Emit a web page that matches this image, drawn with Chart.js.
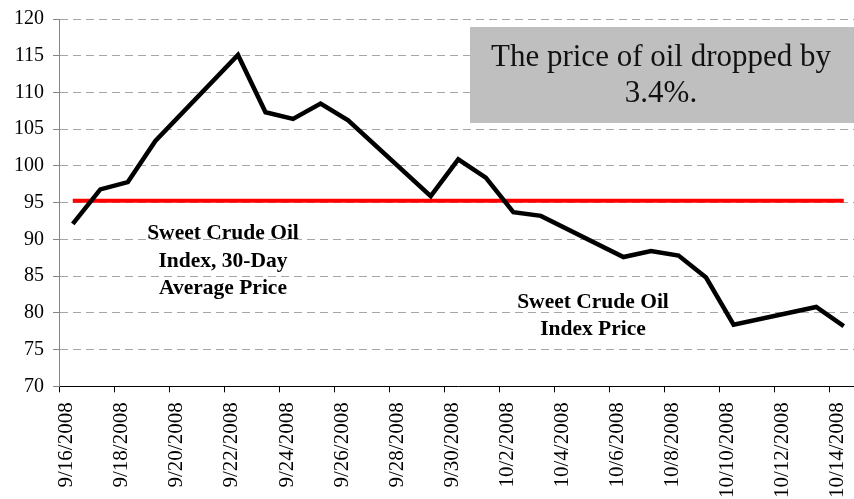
<!DOCTYPE html>
<html>
<head>
<meta charset="utf-8">
<script src="https://cdn.jsdelivr.net/npm/chart.js@4"></script>
<style>
  html, body { margin: 0; padding: 0; overflow: hidden; background: #fff; }
  .box { width: 879px; height: 510px; margin-top: -2px; }
</style>
</head>
<body>
<div class="box"><canvas id="oilChart"></canvas></div>
<script>
const dates = ['9/16/2008','9/17/2008','9/18/2008','9/19/2008','9/20/2008','9/21/2008','9/22/2008',
  '9/23/2008','9/24/2008','9/25/2008','9/26/2008','9/27/2008','9/28/2008','9/29/2008',
  '9/30/2008','10/1/2008','10/2/2008','10/3/2008','10/4/2008','10/5/2008','10/6/2008',
  '10/7/2008','10/8/2008','10/9/2008','10/10/2008','10/11/2008','10/12/2008','10/13/2008','10/14/2008'];
// weekends have no quote
const indexPrice = [92.1, 96.8, 97.8, 103.4, null, null, 115.1,
  107.3, 106.4, 108.5, 106.2, null, null, 95.9,
  100.9, 98.4, 93.7, 93.2, null, null, 87.6,
  88.4, 87.8, 84.8, 78.4, null, null, 80.8, 78.2];
const avgPrice = [95.25, 95.25, 95.25, 95.25, null, null, 95.25,
  95.25, 95.25, 95.25, 95.25, null, null, 95.25,
  95.25, 95.25, 95.25, 95.25, null, null, 95.25,
  95.25, 95.25, 95.25, 95.25, null, null, 95.25, 95.25];
const yTicks = [70, 75, 80, 85, 90, 95, 100, 105, 110, 115, 120];

const serif = 'Liberation Serif, Times New Roman, serif';

// text labels and the grey note box (canvas is shifted up 2px)
const notes = {
  id: 'notes',
  afterDraw(chart) {
    const ctx = chart.ctx;
    ctx.save();
    ctx.translate(0, 2);
    ctx.fillStyle = '#bfbfbf';
    ctx.fillRect(470, 27, 409, 96);
    ctx.fillStyle = '#111';
    ctx.textAlign = 'center';
    ctx.textBaseline = 'middle';
    ctx.font = '31px ' + serif;
    ctx.fillText('The price of oil dropped by', 661, 58);
    ctx.fillText('3.4%.', 661, 94);

    ctx.fillStyle = '#000';
    ctx.font = 'bold 21.5px ' + serif;
    ctx.fillText('Sweet Crude Oil', 223, 233);
    ctx.fillText('Index, 30-Day', 223, 261);
    ctx.fillText('Average Price', 223, 288);
    ctx.fillText('Sweet Crude Oil', 593, 302);
    ctx.fillText('Index Price', 593, 329);
    ctx.restore();
  }
};

const oilChart = new Chart(document.getElementById('oilChart'), {
  type: 'line',
  data: {
    labels: dates,
    datasets: [{
      label: 'Sweet Crude Oil Index Price',
      data: indexPrice,
      borderColor: '#000',
      borderWidth: 4.5,
      pointRadius: 0,
      tension: 0,
      spanGaps: true
    }, {
      label: 'Sweet Crude Oil Index, 30-Day Average Price',
      data: avgPrice,
      borderColor: '#ff0000',
      borderWidth: 4,
      pointRadius: 0,
      tension: 0,
      spanGaps: true
    }]
  },
  options: {
    responsive: true,
    maintainAspectRatio: false,
    animation: false,
    layout: { padding: { top: 4, left: 5, right: 3, bottom: 0 } },
    plugins: {
      legend: { display: false },
      tooltip: { enabled: false }
    },
    scales: {
      x: {
        type: 'category',
        offset: true,
        grid: {
          offset: true,
          drawOnChartArea: false,
          tickLength: 6,
          tickColor: (c) => c.index % 2 === 0 ? '#000' : 'rgba(0,0,0,0)'
        },
        border: { color: '#000', width: 1 },
        ticks: {
          autoSkip: false,
          maxRotation: 90,
          minRotation: 90,
          padding: 10,
          labelOffset: -6,
          color: '#000',
          font: { family: serif, size: 21 },
          callback: (v, i) => i % 2 === 0 ? dates[i] : ''
        }
      },
      y: {
        min: 70,
        max: 120,
        afterBuildTicks: (axis) => { axis.ticks = yTicks.map(v => ({ value: v })); },
        grid: {
          color: '#a6a6a6',
          tickColor: '#868686',
          tickLength: 6,
          tickBorderDash: []
        },
        border: { color: '#868686', width: 1, dash: [8, 5] },
        ticks: {
          padding: 9,
          color: '#000',
          font: { family: serif, size: 20 }
        }
      }
    }
  },
  plugins: [notes]
});
</script>
</body>
</html>
